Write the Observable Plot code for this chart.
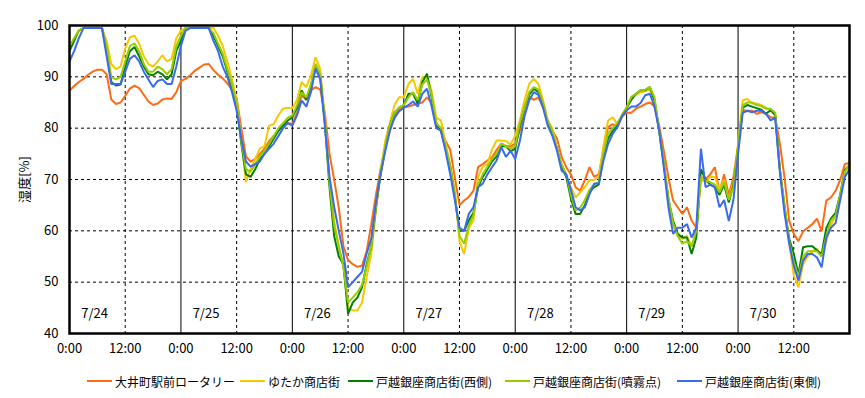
<!DOCTYPE html>
<html>
<head>
<meta charset="utf-8">
<script src="https://cdn.jsdelivr.net/npm/d3@7"></script>
<script src="https://cdn.jsdelivr.net/npm/@observablehq/plot@0.6"></script>
<style>
  html, body { margin: 0; padding: 0; background: #fff; }
  #wrap { position: relative; width: 865px; height: 398px; font-family: "Noto Sans CJK JP", "DejaVu Sans", sans-serif; }
  #legend { position: absolute; left: 0; top: 371px; width: 865px; height: 20px; font-size: 12px; color: #000; white-space: nowrap; }
  #legend .item { position: absolute; top: 0; height: 20px; display: flex; align-items: center; }
  #legend .sw { display: inline-block; width: 25px; height: 2px; margin-right: 3px; }
</style>
</head>
<body>
<div id="wrap"><div id="chart"></div><div id="legend"></div></div>
<script>
// Series names and colours
const seriesNames = ["大井町駅前ロータリー", "ゆたか商店街", "戸越銀座商店街(西側)", "戸越銀座商店街(噴霧点)", "戸越銀座商店街(東側)"];
const seriesColors = ["#ff6a14", "#f5c800", "#008200", "#99cc00", "#3a6af0"];

// Day labels, tick values and labels
const dayLabels = ["7/24", "7/25", "7/26", "7/27", "7/28", "7/29", "7/30"];
const yTicks = [40, 50, 60, 70, 80, 90, 100];
const xTickHours = [0, 12, 24, 36, 48, 60, 72, 84, 96, 108, 120, 132, 144, 156];
const xTickLabels = ["0:00", "12:00"];

// Hourly humidity (%) from 7/24 0:00 to 7/31 0:00 (169 values each)
const oimachi = [
  87.3, 88.2, 89.0, 89.6, 90.4, 91.0, 91.4, 91.4, 90.5, 85.6, 84.7, 85.0, 86.3, 87.7, 88.3, 87.8, 86.5, 85.2, 84.5, 84.8, 85.6, 85.8, 85.7, 87.0,
  89.2, 89.6, 90.3, 91.2, 91.8, 92.4, 92.5, 91.3, 90.4, 89.7, 88.7, 87.5, 85.8, 80.0, 74.5, 73.5, 74.0, 75.0, 76.0, 77.5, 78.5, 79.5, 80.5, 81.0,
  80.8, 83.0, 86.4, 85.5, 87.4, 88.0, 87.5, 83.0, 75.0, 70.0, 64.5, 57.0, 54.3, 53.5, 53.0, 53.2, 56.0, 61.3, 67.0, 72.0, 76.3, 79.5, 82.5, 83.5,
  84.0, 84.2, 84.5, 84.8, 85.0, 86.0, 85.0, 81.0, 79.5, 77.5, 75.8, 70.4, 65.0, 65.9, 66.6, 67.8, 72.4, 73.0, 73.7, 74.3, 75.8, 77.0, 76.5, 76.5,
  77.0, 79.5, 83.5, 86.1, 85.5, 86.0, 84.0, 81.5, 79.5, 78.0, 74.4, 72.4, 71.0, 68.5, 67.8, 69.9, 72.4, 70.5, 71.0, 75.6, 80.2, 80.8, 80.2, 82.3,
  83.0, 83.0, 83.8, 84.2, 84.7, 85.0, 84.2, 80.5, 75.6, 70.4, 65.9, 64.6, 63.3, 64.6, 62.0, 60.6, 70.5, 70.0, 71.0, 72.4, 67.5, 71.0, 67.0, 70.5,
  76.5, 83.5, 83.4, 83.4, 82.8, 83.1, 82.8, 82.1, 82.1, 77.0, 70.4, 62.0, 59.4, 58.0, 59.9, 60.6, 61.3, 62.4, 59.9, 65.9, 66.5, 67.8, 69.9, 73.0, 73.2
];
const yutaka = [
  95.5, 97.5, 99.0, 99.5, 99.5, 99.5, 99.5, 99.5, 97.0, 92.5, 91.5, 92.0, 95.5, 97.7, 98.0, 96.5, 94.0, 92.5, 92.0, 93.0, 94.2, 93.0, 93.5, 97.5,
  99.0, 99.5, 99.5, 99.5, 99.5, 99.5, 99.5, 99.5, 98.0, 96.0, 93.0, 89.5, 85.4, 78.0, 69.5, 72.0, 74.0, 76.0, 76.5, 80.5, 80.8, 82.5, 83.8, 84.0,
  83.9, 85.5, 89.0, 88.0, 90.3, 93.8, 91.5, 82.0, 70.0, 62.0, 57.0, 53.0, 45.0, 44.5, 44.5, 46.0, 51.0, 55.5, 64.0, 71.5, 77.5, 81.0, 84.5, 86.0,
  86.0, 88.6, 89.6, 86.7, 90.0, 90.0, 87.2, 82.0, 81.5, 77.0, 73.0, 68.0, 58.0, 55.5, 60.5, 62.0, 70.5, 72.5, 73.0, 75.8, 77.6, 77.6, 77.5, 76.8,
  78.5, 81.5, 85.4, 88.6, 89.6, 88.6, 85.4, 81.5, 80.0, 76.0, 73.0, 70.5, 68.5, 66.5, 67.5, 68.5, 69.9, 69.9, 70.5, 76.5, 81.5, 82.1, 80.8, 82.7,
  84.0, 86.0, 86.5, 87.0, 87.2, 87.5, 85.5, 79.5, 73.0, 66.0, 61.0, 59.0, 58.5, 59.0, 57.0, 59.5, 70.0, 69.5, 70.5, 70.5, 68.0, 70.0, 66.0, 69.5,
  77.0, 85.4, 85.7, 84.8, 84.8, 84.5, 84.0, 83.5, 83.0, 72.0, 65.0, 58.0, 51.3, 49.0, 53.5, 55.0, 56.0, 56.5, 55.0, 58.0, 61.0, 63.0, 66.5, 71.5, 72.5
];
const togoshiWest = [
  95.0, 97.0, 99.0, 99.5, 99.5, 99.5, 99.5, 99.5, 95.0, 89.0, 88.3, 88.5, 92.0, 95.0, 95.8, 94.0, 92.0, 90.5, 90.3, 91.0, 90.5, 89.5, 90.5, 95.0,
  97.0, 99.5, 99.5, 99.5, 99.5, 99.5, 99.5, 98.0, 96.0, 94.0, 91.0, 88.0, 84.5, 77.0, 71.0, 70.5, 72.0, 74.0, 75.0, 76.5, 78.0, 79.5, 80.5, 81.5,
  82.1, 84.0, 87.4, 85.5, 88.3, 92.0, 90.0, 81.0, 68.5, 59.0, 55.0, 53.5, 43.8, 46.0, 47.0, 49.0, 53.5, 57.0, 64.5, 71.0, 76.0, 80.5, 83.0, 84.0,
  84.5, 86.7, 86.7, 84.8, 89.0, 90.6, 86.0, 80.5, 79.5, 76.0, 72.5, 66.5, 60.0, 60.0, 62.0, 63.5, 68.5, 70.5, 72.0, 73.5, 74.5, 76.5, 76.5, 75.5,
  76.0, 80.5, 84.0, 86.5, 87.7, 87.0, 84.5, 81.0, 79.0, 76.0, 72.5, 70.5, 66.3, 63.3, 63.3, 65.0, 67.5, 68.5, 69.0, 74.5, 78.0, 79.5, 80.5, 82.3,
  84.0, 85.5, 86.7, 87.4, 87.4, 88.0, 85.4, 79.5, 73.0, 66.0, 62.0, 59.4, 58.7, 58.7, 55.5, 58.7, 72.0, 70.0, 69.0, 68.5, 67.0, 69.0, 65.5, 69.0,
  76.0, 84.0, 84.5, 84.2, 83.9, 83.6, 82.8, 83.5, 82.5, 72.0, 64.5, 58.5, 55.5, 51.5, 56.8, 57.0, 57.0, 56.2, 55.5, 60.5, 62.4, 63.5, 67.1, 71.8, 72.8
];
const togoshiMist = [
  96.0, 97.5, 99.0, 99.5, 99.5, 99.5, 99.5, 99.5, 96.0, 90.0, 89.5, 90.0, 93.0, 96.0, 96.5, 95.0, 92.5, 91.0, 91.0, 92.0, 91.5, 90.5, 91.5, 96.0,
  98.0, 99.5, 99.5, 99.5, 99.5, 99.5, 99.5, 98.5, 96.5, 94.5, 91.5, 88.5, 85.0, 77.5, 72.0, 71.5, 73.0, 74.5, 75.5, 77.0, 78.5, 80.0, 81.0, 82.0,
  82.5, 84.5, 87.0, 86.0, 88.5, 92.5, 90.5, 81.5, 69.5, 61.0, 57.0, 53.0, 46.0, 47.0, 48.0, 49.5, 53.0, 57.0, 64.5, 71.5, 76.5, 80.5, 83.0, 84.0,
  84.5, 86.0, 87.0, 85.5, 88.5, 89.5, 86.5, 81.0, 80.0, 76.5, 72.5, 67.0, 59.0, 57.5, 61.0, 63.0, 69.0, 71.0, 72.5, 74.0, 75.0, 77.0, 76.5, 76.0,
  76.5, 81.0, 84.0, 87.0, 88.0, 87.5, 85.0, 81.5, 79.5, 76.0, 73.0, 71.0, 67.0, 64.0, 64.5, 66.0, 68.0, 69.0, 69.5, 75.0, 79.0, 80.0, 81.0, 82.5,
  84.0, 86.1, 86.7, 87.4, 87.5, 88.0, 86.0, 79.5, 73.5, 66.5, 61.5, 59.0, 57.5, 58.0, 57.0, 60.0, 70.5, 69.8, 69.5, 69.0, 67.5, 69.5, 66.0, 68.5,
  76.5, 84.5, 85.0, 85.0, 84.5, 84.3, 83.8, 83.8, 83.0, 72.0, 65.0, 58.0, 54.0, 51.0, 55.0, 56.0, 56.0, 56.0, 55.0, 59.0, 62.0, 63.0, 67.0, 71.5, 73.0
];
const togoshiEast = [
  93.0, 95.0, 97.5, 99.5, 99.5, 99.5, 99.5, 99.5, 94.0, 88.6, 88.6, 88.6, 91.0, 93.5, 94.2, 93.0, 91.0, 89.5, 88.0, 89.2, 89.5, 88.6, 88.6, 92.0,
  96.0, 99.0, 99.5, 99.5, 99.5, 99.5, 99.5, 97.0, 95.0, 92.0, 90.0, 87.0, 83.4, 78.0, 73.5, 72.5, 73.0, 73.5, 75.0, 76.0, 77.0, 78.5, 80.0, 81.0,
  80.5, 82.5, 85.4, 84.2, 87.0, 91.6, 89.5, 80.5, 70.5, 64.7, 60.0, 55.6, 49.0, 50.0, 51.0, 52.0, 55.6, 58.5, 65.5, 71.0, 75.5, 79.5, 82.0, 83.3,
  84.0, 84.5, 85.2, 84.2, 86.7, 87.7, 84.2, 80.0, 79.5, 75.5, 71.0, 66.0, 60.6, 60.0, 63.3, 64.6, 68.5, 69.2, 71.0, 72.4, 73.7, 76.3, 74.4, 75.6,
  74.0, 77.5, 82.3, 85.4, 87.0, 86.5, 84.0, 80.5, 78.5, 75.6, 71.7, 71.0, 68.0, 64.6, 64.0, 64.6, 67.1, 69.2, 69.2, 73.7, 76.9, 78.9, 80.2, 82.3,
  83.5, 84.2, 84.2, 84.9, 86.4, 86.7, 84.2, 79.5, 72.4, 64.6, 59.4, 60.6, 60.6, 61.3, 58.7, 60.6, 76.0, 68.5, 69.0, 68.5, 64.6, 66.0, 61.9, 66.0,
  75.0, 83.0, 83.4, 83.1, 83.4, 83.4, 82.8, 81.5, 82.0, 71.5, 63.5, 57.5, 53.2, 50.3, 54.2, 55.5, 55.5, 54.8, 52.9, 58.7, 60.6, 61.5, 66.0, 70.5, 72.0
];

const allSeries = [oimachi, yutaka, togoshiWest, togoshiMist, togoshiEast];
const rows = [];
allSeries.forEach((arr, s) => arr.forEach((v, h) => rows.push({hour: h, value: v, series: seriesNames[s]})));

const dayStarts = dayLabels.map((d, i) => i * 24);
const dayBoundaries = dayStarts.slice(1);
const halfDays = dayStarts.map(h => h + 12);
const dayText = dayLabels.map((d, i) => ({label: d, hour: i * 24 + 5.4}));

const FONT = '"Noto Sans CJK JP", "DejaVu Sans", sans-serif';

const chart = Plot.plot({
  width: 865,
  height: 365,
  marginLeft: 69,
  marginRight: 16,
  marginTop: 25,
  marginBottom: 32,
  style: {fontFamily: FONT, fontSize: "12px", color: "#000", background: "#fff", overflow: "visible"},
  x: {domain: [0, 168]},
  y: {domain: [40, 100]},
  color: {domain: seriesNames, range: seriesColors},
  marks: [
    Plot.ruleY(yTicks.slice(1, -1), {stroke: "#000", strokeWidth: 1, strokeDasharray: "3,3"}),
    Plot.ruleX(halfDays, {stroke: "#000", strokeWidth: 1, strokeDasharray: "3,3"}),
    Plot.ruleX(dayBoundaries, {stroke: "#000", strokeWidth: 1}),
    Plot.line(rows, {x: "hour", y: "value", z: "series", stroke: "series", strokeWidth: 2, strokeLinejoin: "miter"}),
    Plot.text(dayText, {x: "hour", y: 43.9, text: "label", fontSize: 13, fill: "#000"}),
    Plot.axisX(xTickHours, {tickSize: 0, tickPadding: 10, fontSize: 13, tickFormat: h => xTickLabels[(h % 24) / 12], label: null}),
    Plot.axisY(yTicks, {tickSize: 0, tickPadding: 11, fontSize: 13, label: "湿度[%]", labelAnchor: "center", labelArrow: "none", labelOffset: 50}),
    Plot.frame({stroke: "#000", strokeWidth: 2.5})
  ]
});
document.getElementById("chart").appendChild(chart);

const legendLeft = [87, 240, 348, 505, 677];
const legend = document.getElementById("legend");
seriesNames.forEach((name, i) => {
  const item = document.createElement("div");
  item.className = "item";
  item.style.left = legendLeft[i] + "px";
  const sw = document.createElement("span");
  sw.className = "sw";
  sw.style.background = seriesColors[i];
  const t = document.createElement("span");
  t.textContent = name;
  item.appendChild(sw);
  item.appendChild(t);
  legend.appendChild(item);
});
</script>
</body>
</html>
